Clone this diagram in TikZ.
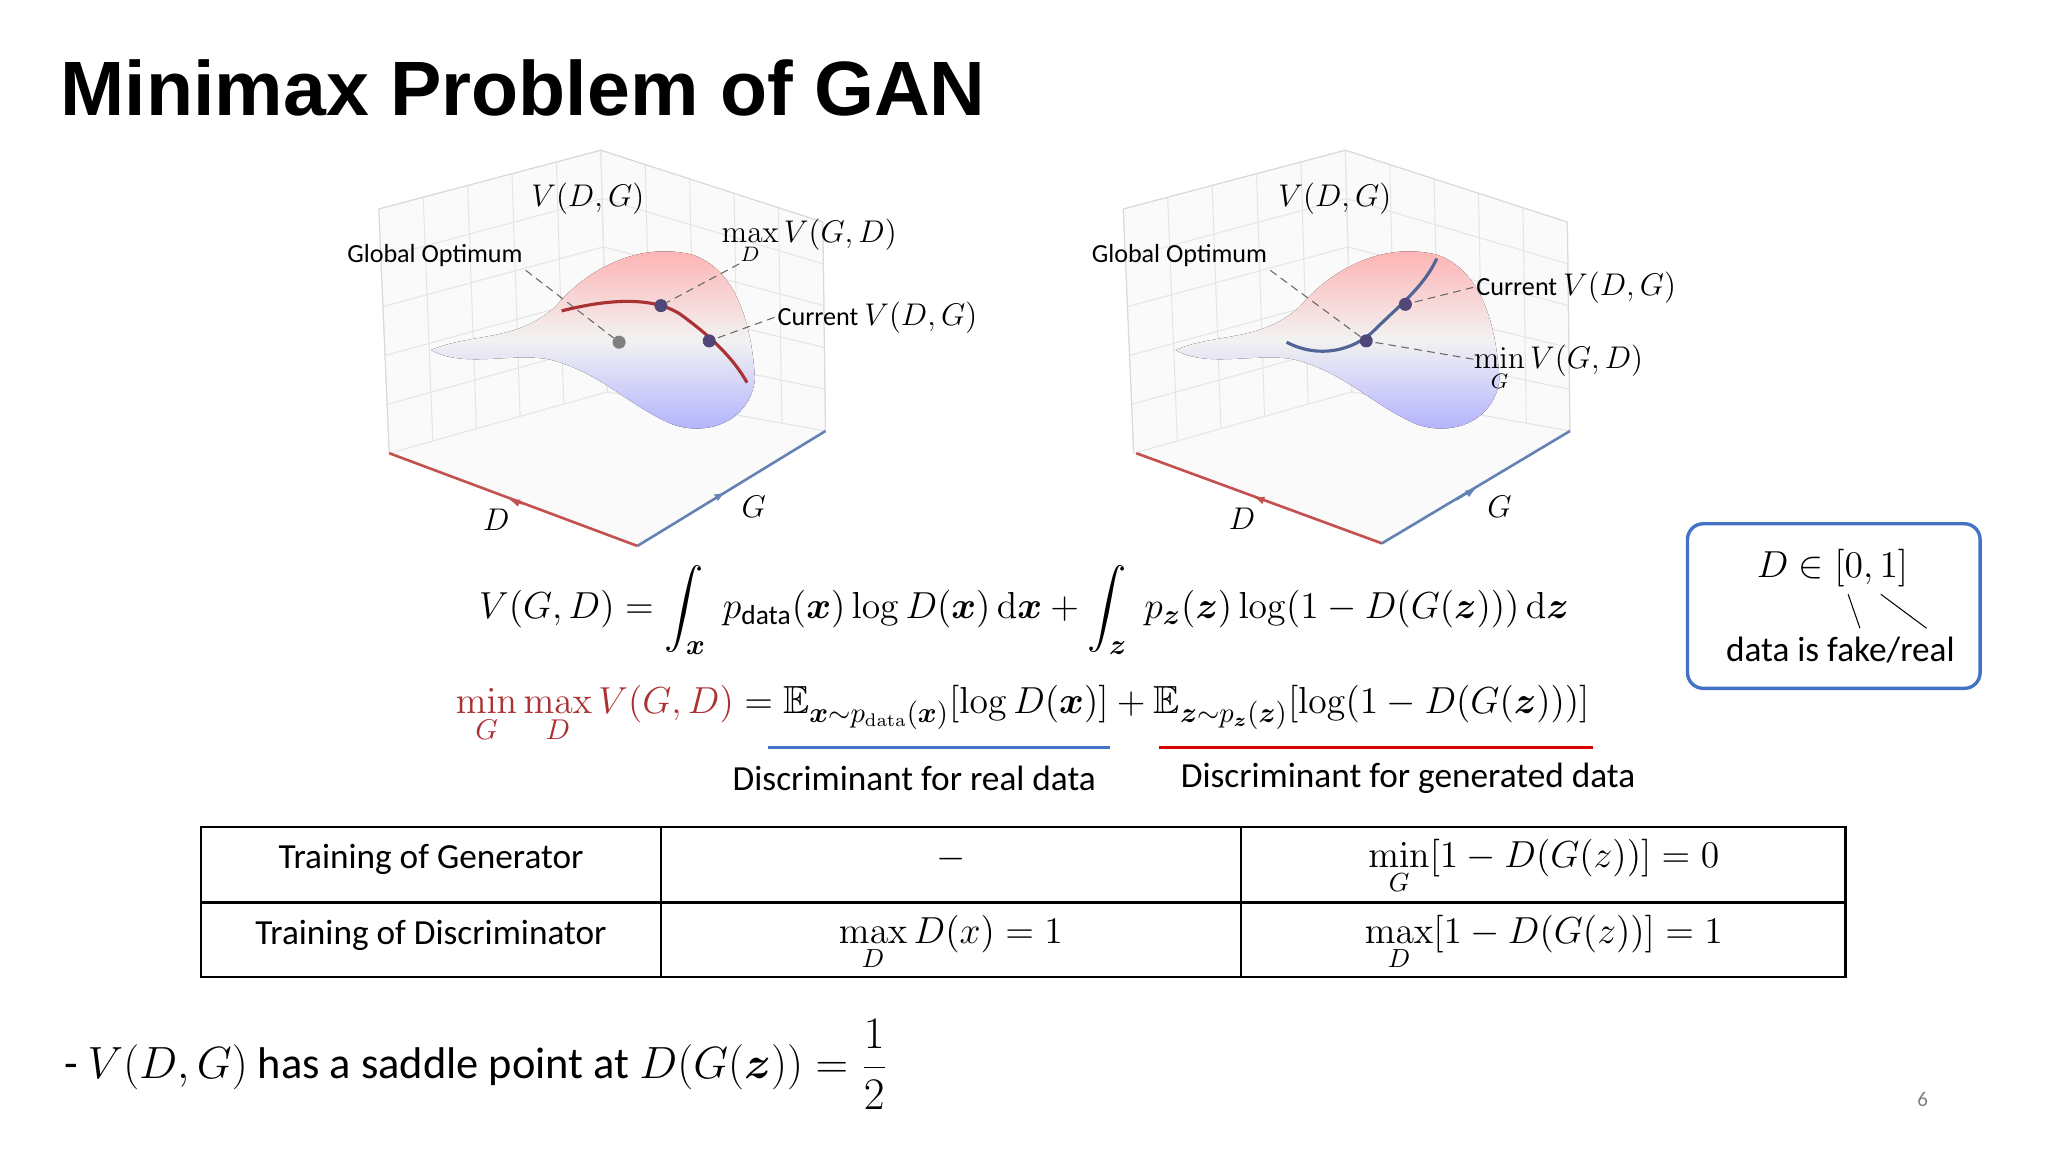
\documentclass[tikz,border=0pt]{standalone}
\usepackage{amsmath,amssymb,bm}
\usepackage[no-math]{fontspec}
\setmainfont{Carlito}
\newfontfamily\arialb{Liberation Sans}
\usetikzlibrary{arrows.meta,calc}
\definecolor{axred}{RGB}{196,80,80}
\definecolor{axblue}{RGB}{100,130,180}
\definecolor{cvred}{RGB}{170,50,50}
\definecolor{cvblue}{RGB}{80,100,150}
\definecolor{dotc}{RGB}{80,70,120}
\definecolor{boxblue}{RGB}{68,114,196}
\tikzset{
  lbl/.style={font=\fontsize{10}{12}\selectfont, inner sep=1pt},
  mlbl/.style={font=\fontsize{12}{14}\selectfont, inner sep=1pt},
  body/.style={font=\fontsize{13.5}{16}\selectfont, inner sep=1pt},
  dashl/.style={densely dashed, gray!80!black, line width=0.4pt},
  dot/.style={circle, fill=dotc, inner sep=0pt, minimum size=5pt},
  grid3/.style={gray!20, line width=0.4pt},
}
\newcommand{\plotframe}{%
  \fill[gray!4] (298,347) -- (290,160) -- (460,115) -- (630,170) -- (632,330) -- (488,418) -- cycle;
  \foreach \t in {0,0.2,0.4,0.6,0.8,1}{
    \draw[grid3] ($(290,160)!\t!(460,115)$) -- ($(298,347)!\t!(465,300)$);
    \draw[grid3] ($(460,115)!\t!(630,170)$) -- ($(465,300)!\t!(632,330)$);
    \draw[grid3] ($(290,160)!\t!(298,347)$) -- ($(460,115)!\t!(465,300)$) -- ($(630,170)!\t!(632,330)$);
  }
  \draw[gray!30] (298,347) -- (290,160) -- (460,115) -- (630,170) -- (632,330);
  \fill[top color=red!32, bottom color=blue!32, middle color=gray!10]
    (330,268) .. controls (360,255) and (395,262) .. (425,235)
    .. controls (450,205) and (490,185) .. (530,195)
    .. controls (560,205) and (575,240) .. (578,290)
    .. controls (575,320) and (545,335) .. (515,325)
    .. controls (480,310) and (460,285) .. (420,275)
    .. controls (390,270) and (355,282) .. (330,268) -- cycle;
}
\begin{document}
\begin{tikzpicture}[x=0.5pt,y=-0.5pt]
\useasboundingbox (0,0) rectangle (1568,882);
\node[anchor=west, font=\arialb\bfseries\fontsize{29.5}{33}\selectfont, inner sep=0pt] (title) at (46,67) {Minimax Problem of GAN};

% ---- left plot
\plotframe
\draw[cvred, line width=1.2pt] (430,238) .. controls (470,228) and (500,228) .. (520,240) .. controls (545,258) and (562,275) .. (572,293);
\node[dot] (p1) at (506,234) {};
\node[dot] (p2) at (543,261) {};
\node[circle, fill=gray, inner sep=0pt, minimum size=5pt] (p0) at (474,262) {};
\draw[axred, line width=1pt] (298,347) -- (488,418);
\draw[axblue, line width=1pt] (488,418) -- (632,330);
\draw[axred, -{Latex[length=4pt]}] (400,386) -- (390,382.5);
\draw[axblue, -{Latex[length=4pt]}] (540,386) -- (555,377);
\node[mlbl] (lD) at (380,398) {$D$};
\node[mlbl] (lG) at (577,388) {$G$};
\node[mlbl] (lV) at (450,152) {$V(D,G)$};
\node[lbl] (lgo) at (333,196) {Global Optimum};
\node[mlbl,anchor=west] (lmax) at (550,185) {$\max\limits_{D} V(G,D)$};
\node[lbl,anchor=west] (lcur) at (593,243) {Current \fontsize{12}{14}\selectfont$V(D,G)$};
\draw[dashl] (lgo.south east) -- (p0);
\draw[dashl] (566,202) -- (p1);
\draw[dashl] (lcur.west) -- (p2);

% ---- right plot
\begin{scope}[shift={(570,0)}]
\plotframe
\end{scope}
\draw[cvblue, line width=1.2pt] (985,262) .. controls (1010,275) and (1035,268) .. (1050,255) .. controls (1070,235) and (1090,220) .. (1100,198);
\node[dot] (q1) at (1046,261) {};
\node[dot] (q2) at (1076,233) {};
\draw[axred, line width=1pt] (870,347) -- (1058,416);
\draw[axblue, line width=1pt] (1058,416) -- (1202,330);
\draw[axred, -{Latex[length=4pt]}] (970,384) -- (960,380.5);
\draw[axblue, -{Latex[length=4pt]}] (1115,383) -- (1130,374);
\node[mlbl] (rD) at (951,397) {$D$};
\node[mlbl] (rG) at (1148,388) {$G$};
\node[mlbl] (rV) at (1022,152) {$V(D,G)$};
\node[lbl] (rgo) at (903,196) {Global Optimum};
\node[lbl,anchor=west] (rcur) at (1128,220) {Current \fontsize{12}{14}\selectfont$V(D,G)$};
\node[mlbl,anchor=west] (rmin) at (1126,282) {$\min\limits_{G} V(G,D)$};
\draw[dashl] (rgo.south east) -- (q1);
\draw[dashl] (rcur.west) -- (q2);
\draw[dashl] (1128,275) -- (q1);

% ---- equations
\node[font=\fontsize{15}{18}\selectfont] (eq1) at (784,467)
 {$V(G,D) = \displaystyle\int_{\bm{x}} \; p_{\text{data}}(\bm{x}) \log D(\bm{x})\,\mathrm{d}\bm{x} + \int_{\bm{z}} \; p_{\bm{z}}(\bm{z}) \log(1-D(G(\bm{z})))\,\mathrm{d}\bm{z}$};
\node[font=\fontsize{15}{18}\selectfont] (eq2) at (783,547)
 {$\color{cvred}\min\limits_{G}\max\limits_{D} V(G,D)\color{black} = \mathbb{E}_{\bm{x}\sim p_{\mathrm{data}}(\bm{x})}[\log D(\bm{x})] + \mathbb{E}_{\bm{z}\sim p_{\bm{z}}(\bm{z})}[\log(1-D(G(\bm{z})))]$};
\draw[boxblue, line width=1.2pt] (588,572) -- (850,572);
\draw[red!85!black, line width=1.2pt] (887,572) -- (1220,572);
\node[body] (dr) at (700,596) {Discriminant for real data};
\node[body] (dg) at (1078,596) {Discriminant for generated data};

% ---- box
\node[draw=boxblue, line width=1.3pt, rounded corners=6pt, minimum width=112pt, minimum height=63pt] (bx) at (1404,464) {};
\node[font=\fontsize{15}{18}\selectfont] (dd) at (1403,435) {$D \in [0,1]$};
\node[body] (df) at (1409,498) {data is fake/real};
\draw (1415,455) -- (1424,481);
\draw (1440,455) -- (1475,481);

% ---- table
\draw[line width=0.9pt] (154,633) rectangle (1413,748);
\draw[line width=0.9pt] (154,691) -- (1413,691);
\draw[line width=0.9pt] (506,633) -- (506,748);
\draw[line width=0.9pt] (950,633) -- (950,748);
\node[body] (t11) at (330,658) {Training of Generator};
\node[body] (t12) at (728,658) {$-$};
\node[font=\fontsize{14}{16}\selectfont] (t13) at (1182,664) {$\min\limits_{G}[1-D(G(z))]=0$};
\node[body] (t21) at (330,716) {Training of Discriminator};
\node[font=\fontsize{14}{16}\selectfont] (t22) at (728,722) {$\max\limits_{D} D(x)=1$};
\node[font=\fontsize{14}{16}\selectfont] (t23) at (1182,722) {$\max\limits_{D}[1-D(G(z))]=1$};

% ---- bottom
\node[anchor=west, font=\fontsize{17}{20}\selectfont] (bt) at (42,815)
 {- $V(D,G)$ has a saddle point at $D(G(\bm{z}))=\dfrac{1}{2}$};
\node[font=\fontsize{8}{10}\selectfont, text=gray] (pn) at (1472,842) {6};
\end{tikzpicture}
\end{document}
